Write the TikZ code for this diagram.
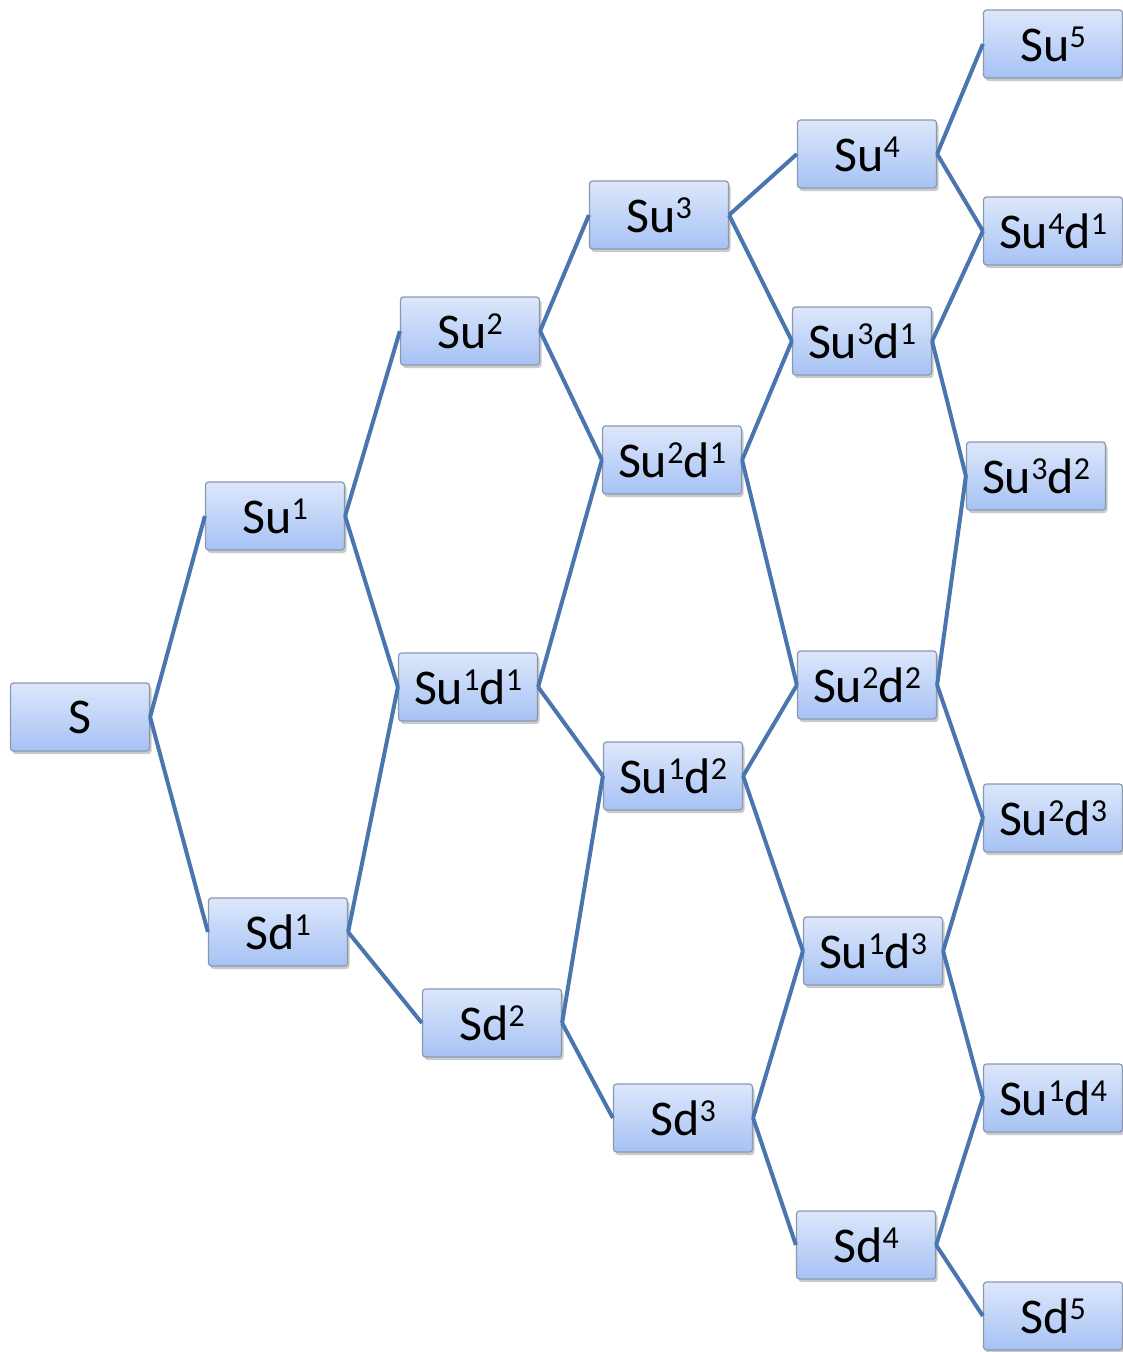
\documentclass[tikz,border=0pt]{standalone}
\usepackage{fontspec}
\setmainfont{Carlito}
\usetikzlibrary{shadows}
\definecolor{boxtop}{HTML}{DDE7FB}
\definecolor{boxbot}{HTML}{A6C2F4}
\definecolor{boxline}{HTML}{8A98AE}
\definecolor{link}{HTML}{4A76B0}
\tikzset{
  cell/.style={draw=boxline, line width=1.2pt, rounded corners=3pt,
    top color=boxtop, bottom color=boxbot, minimum width=139pt, minimum height=68pt,
    inner sep=0pt, font=\fontsize{50}{54}\selectfont,
    drop shadow={shadow xshift=2pt, shadow yshift=-3pt, opacity=0.35, fill=black!60}},
  conn/.style={draw=link, line width=4pt}
}
\newcommand{\upx}[1]{\raisebox{14pt}{\fontsize{32}{32}\selectfont #1}}
\begin{document}
\begin{tikzpicture}[x=1pt,y=-1pt]
\useasboundingbox (0,0) rectangle (1123,1352);
\node[cell] (s) at (80,717) {S};
\node[cell] (u1) at (275,516) {Su\upx{1}};
\node[cell] (d1) at (278,932) {Sd\upx{1}};
\node[cell] (u2) at (470,331) {Su\upx{2}};
\node[cell] (u1d1) at (468,687) {Su\upx{1}d\upx{1}};
\node[cell] (d2) at (492,1023) {Sd\upx{2}};
\node[cell] (u3) at (659,215) {Su\upx{3}};
\node[cell] (u2d1) at (672,460) {Su\upx{2}d\upx{1}};
\node[cell] (u1d2) at (673,776) {Su\upx{1}d\upx{2}};
\node[cell] (d3) at (683,1118) {Sd\upx{3}};
\node[cell] (u4) at (867,154) {Su\upx{4}};
\node[cell] (u3d1) at (862,341) {Su\upx{3}d\upx{1}};
\node[cell] (u2d2) at (867,685) {Su\upx{2}d\upx{2}};
\node[cell] (u1d3) at (873,951) {Su\upx{1}d\upx{3}};
\node[cell] (d4) at (866,1245) {Sd\upx{4}};
\node[cell] (u5) at (1053,44) {Su\upx{5}};
\node[cell] (u4d1) at (1053,231) {Su\upx{4}d\upx{1}};
\node[cell] (u3d2) at (1036,476) {Su\upx{3}d\upx{2}};
\node[cell] (u2d3) at (1053,818) {Su\upx{2}d\upx{3}};
\node[cell] (u1d4) at (1053,1098) {Su\upx{1}d\upx{4}};
\node[cell] (d5) at (1053,1316) {Sd\upx{5}};
\foreach \a/\b in {s/u1,s/d1,u1/u2,u1/u1d1,d1/u1d1,d1/d2,u2/u3,u2/u2d1,u1d1/u2d1,u1d1/u1d2,d2/u1d2,d2/d3,
  u3/u4,u3/u3d1,u2d1/u3d1,u2d1/u2d2,u1d2/u2d2,u1d2/u1d3,d3/u1d3,d3/d4,
  u4/u5,u4/u4d1,u3d1/u4d1,u3d1/u3d2,u2d2/u3d2,u2d2/u2d3,u1d3/u2d3,u1d3/u1d4,d4/u1d4,d4/d5}
  \draw[conn] (\a.east) -- (\b.west);
\end{tikzpicture}
\end{document}
